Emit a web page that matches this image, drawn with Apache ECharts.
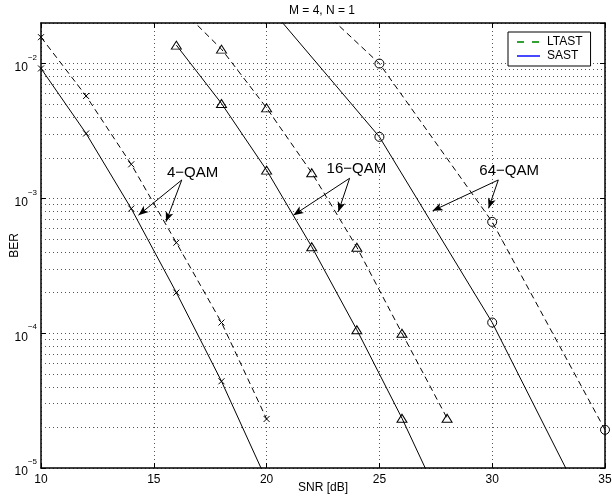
<!DOCTYPE html>
<html>
<head>
<meta charset="utf-8">
<script src="https://cdn.jsdelivr.net/npm/echarts@6/dist/echarts.min.js"></script>
<style>
  html, body { margin: 0; padding: 0; background: #fff; }
  #chart { width: 612px; height: 499px; }
</style>
</head>
<body>
<div id="chart"></div>
<script>
// ---- data ----
const snr4 = [10, 12, 14, 16, 18, 20];
const ltast4 = [1.57e-2, 5.75e-3, 1.79e-3, 4.69e-4, 1.2e-4, 2.31e-5];
const sast4 = [9.2e-3, 3.03e-3, 8.4e-4, 2.0e-4, 4.4e-5, 8.1e-6];

const snr16 = [16, 18, 20, 22, 24, 26, 28];
const ltast16 = [2.75e-2, 1.28e-2, 4.69e-3, 1.55e-3, 4.34e-4, 1.0e-4, 2.34e-5];
const sast16 = [1.37e-2, 5.06e-3, 1.62e-3, 4.38e-4, 1.06e-4, 2.34e-5, 4.5e-6];

const snr64 = [20, 25, 30, 35];
const ltast64 = [6.08e-2, 1.0e-2, 6.7e-4, 1.92e-5];
const sast64 = [2.77e-2, 2.86e-3, 1.2e-4, 2.65e-6];

const xTicks = [10, 15, 20, 25, 30, 35];
const yMin = 1e-5, yMax = 2e-2;
const minorGrid = [2e-5, 3e-5, 4e-5, 5e-5, 6e-5, 7e-5, 8e-5, 9e-5,
                   2e-4, 3e-4, 4e-4, 5e-4, 6e-4, 7e-4, 8e-4, 9e-4,
                   2e-3, 3e-3, 4e-3, 5e-3, 6e-3, 7e-3, 8e-3, 9e-3];

// annotations: label text, label anchor, arrow start, arrow tips
const annoLabels = ['4−QAM', '16−QAM', '64−QAM'];
const annoPos = [[16.72, 1.54e-3], [23.98, 1.65e-3], [30.75, 1.60e-3]];
const annoStart = [[16.24, 1.37e-3], [23.68, 1.41e-3], [30.27, 1.37e-3]];
const annoTips = [
  [[14.32, 7.51e-4], [15.54, 6.71e-4]],
  [[21.19, 7.51e-4], [23.18, 7.96e-4]],
  [[27.36, 8.09e-4], [29.84, 8.44e-4]]
];

const FONT = 'Liberation Sans, Arial, Helvetica, sans-serif';
const zip = (xs, ys) => xs.map((x, i) => [x, ys[i]]);
const CROSS = 'path://M0,0L10,10M0,10L10,0';

function curve(name, xs, ys, dashed, symbol, size) {
  return {
    name: name, type: 'line', xAxisIndex: 0, yAxisIndex: 0,
    data: zip(xs, ys),
    symbol: symbol, symbolSize: size, showSymbol: true,
    lineStyle: { color: '#000', width: 1, type: dashed ? [6, 4] : 'solid' },
    itemStyle: { color: 'rgba(0,0,0,0)', borderColor: '#000', borderWidth: 1 },
    emphasis: { disabled: true }, silent: true, animation: false, z: 3
  };
}

const series = [];

// minor horizontal grid lines (dotted) drawn through the axes
series.push({
  name: 'minorGrid', type: 'lines', coordinateSystem: 'cartesian2d',
  silent: true, animation: false, z: 1,
  lineStyle: { color: '#555', width: 1, type: [1, 3], opacity: 1 },
  data: minorGrid.map(v => ({ coords: [[xTicks[0], v], [xTicks[xTicks.length - 1], v]] }))
});

series.push(
  curve('l4', snr4, ltast4, true, CROSS, 6),
  curve('s4', snr4, sast4, false, CROSS, 6),
  curve('l16', snr16, ltast16, true, 'triangle', [10, 8]),
  curve('s16', snr16, sast16, false, 'triangle', [10, 8]),
  curve('l64', snr64, ltast64, true, 'circle', 9),
  curve('s64', snr64, sast64, false, 'circle', 9)
);

// arrows
const arrowData = [];
annoStart.forEach((s, i) => {
  annoTips[i].forEach(t => {
    arrowData.push([
      { coord: s, symbol: 'none' },
      { coord: t, symbol: 'arrow', symbolSize: [6, 10] }
    ]);
  });
});
series[2].markLine = {
  silent: true, animation: false, symbol: ['none', 'arrow'],
  label: { show: false },
  lineStyle: { color: '#000', width: 1, type: 'solid' },
  itemStyle: { color: '#000' },
  data: arrowData
};
series[2].markPoint = {
  silent: true, animation: false, symbol: 'circle', symbolSize: 1,
  itemStyle: { color: 'rgba(0,0,0,0)' },
  label: { show: true, position: 'inside', formatter: p => p.name,
           color: '#000', fontSize: 15, fontFamily: FONT },
  data: annoLabels.map((n, i) => ({ name: n, coord: annoPos[i] }))
};

// legend-only series
series.push({
  name: 'LTAST', type: 'line', data: [], symbol: 'none',
  lineStyle: { color: '#33a033', width: 1, type: [7, 8] },
  itemStyle: { color: 'rgba(0,0,0,0)', borderWidth: 0 }
});
series.push({
  name: 'SAST', type: 'line', data: [], symbol: 'none',
  lineStyle: { color: '#4848ff', width: 1, type: 'solid' },
  itemStyle: { color: 'rgba(0,0,0,0)', borderWidth: 0 }
});

function logLabel(v) {
  const l = Math.log10(v);
  const k = Math.round(l);
  if (Math.abs(l - k) > 1e-6) return '';
  return '{b|10}{s|' + (k < 0 ? '−' : '') + Math.abs(k) + '}';
}

const dotted = { show: true, lineStyle: { color: '#555', width: 1, type: [1, 3] } };

const option = {
  backgroundColor: '#fff',
  animation: false,
  title: {
    text: 'M = 4, N = 1', left: 289, top: 5, padding: 0,
    textStyle: { fontSize: 12, fontWeight: 'normal', color: '#000', fontFamily: FONT }
  },
  legend: {
    data: ['LTAST', 'SAST'], orient: 'vertical', left: 508, top: 32,
    padding: [4, 8, 4, 8], itemGap: 2, itemWidth: 23, itemHeight: 14,
    borderColor: '#000', borderWidth: 1, backgroundColor: '#fff',
    selectedMode: false,
    itemStyle: { opacity: 0 },
    textStyle: { fontSize: 12, color: '#000', fontFamily: FONT, padding: [0, 0, 0, 2] }
  },
  grid: { left: 41, right: 7, top: 23, bottom: 31, containLabel: false, outerBoundsMode: 'none' },
  xAxis: [{
    type: 'value', min: xTicks[0], max: xTicks[xTicks.length - 1], interval: 5,
    name: 'SNR [dB]', nameLocation: 'middle', nameGap: 14, nameMoveOverlap: false,
    nameTextStyle: { fontSize: 12, color: '#000', fontFamily: FONT },
    axisLine: { show: true, onZero: false, lineStyle: { color: '#000', width: 1.5 } },
    axisTick: { show: true, inside: true, length: 5, lineStyle: { color: '#000' } },
    axisLabel: { fontSize: 12, color: '#000', fontFamily: FONT, margin: 6 },
    splitLine: dotted
  }, {
    type: 'value', position: 'top', min: xTicks[0], max: xTicks[xTicks.length - 1], interval: 5,
    axisLine: { show: true, onZero: false, lineStyle: { color: '#000', width: 1.5 } },
    axisTick: { show: true, inside: true, length: 5, lineStyle: { color: '#000' } },
    axisLabel: { show: false }, splitLine: { show: false }
  }],
  yAxis: [{
    type: 'log', logBase: 10, min: yMin, max: yMax,
    name: 'BER', nameLocation: 'middle', nameGap: 20, nameMoveOverlap: false,
    nameTextStyle: { fontSize: 12, color: '#000', fontFamily: FONT },
    axisLine: { show: true, onZero: false, lineStyle: { color: '#000', width: 1.5 } },
    axisTick: { show: true, inside: true, length: 5, lineStyle: { color: '#000' } },
    axisLabel: {
      formatter: logLabel, margin: 4, showMaxLabel: false,
      rich: {
        b: { fontSize: 12, color: '#000', fontFamily: FONT, lineHeight: 20, verticalAlign: 'bottom' },
        s: { fontSize: 8, color: '#000', fontFamily: FONT, lineHeight: 10, verticalAlign: 'top' }
      }
    },
    splitLine: dotted
  }, {
    type: 'log', logBase: 10, min: yMin, max: yMax, position: 'right',
    axisLine: { show: true, onZero: false, lineStyle: { color: '#000', width: 1.5 } },
    axisTick: { show: true, inside: true, length: 5, lineStyle: { color: '#000' } },
    axisLabel: { show: false }, splitLine: { show: false }
  }],
  series: series
};

const chart = echarts.init(document.getElementById('chart'), null, { renderer: 'canvas' });
chart.setOption(option);
</script>
</body>
</html>
